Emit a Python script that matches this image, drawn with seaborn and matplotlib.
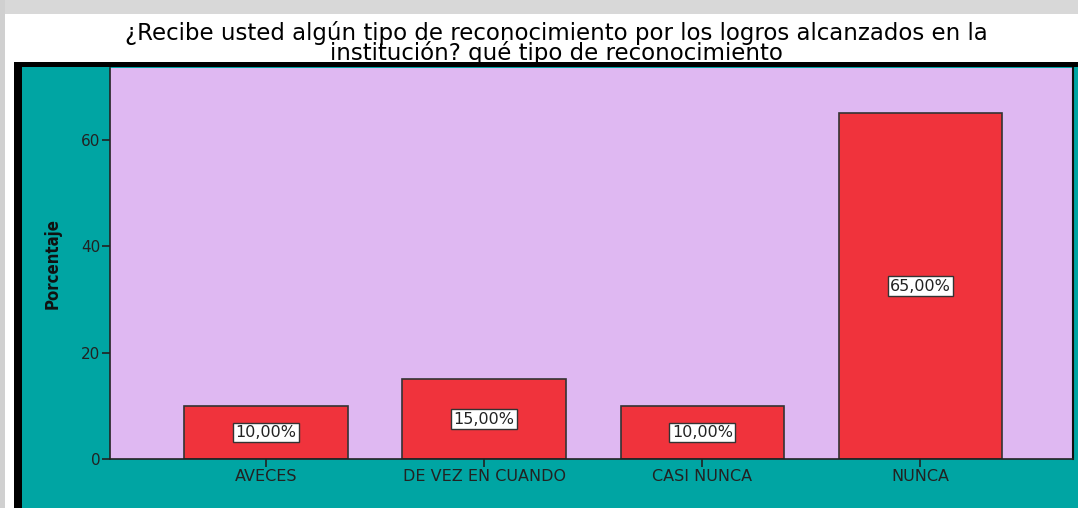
import matplotlib
matplotlib.use("Agg")
import matplotlib.pyplot as plt
import seaborn as sns
import pandas as pd
from matplotlib.patches import Rectangle

categories = ["AVECES", "DE VEZ EN CUANDO", "CASI NUNCA", "NUNCA"]
values = [10.0, 15.0, 10.0, 65.0]
labels = ["10,00%", "15,00%", "10,00%", "65,00%"]
yticks = [0, 20, 40, 60]

sns.set_theme(style="white")
plt.rcParams['font.family'] = ['DejaVu Sans']

W, H = 1078, 508
fig = plt.figure(figsize=(W / 100, H / 100), dpi=100)
fig.patch.set_facecolor("white")

def fx(x): return x / W
def fy(y): return 1 - y / H

bg = [
    Rectangle((0, fy(14)), 1, 14 / H, facecolor="#d8d8d8"),
    Rectangle((0, 0), fx(5), 1, facecolor="#d0d0d0"),
    Rectangle((fx(14), 0), 1 - fx(14), fy(62), facecolor="black"),
    Rectangle((fx(22), 0), 1 - fx(22), fy(67), facecolor="#00A5A3"),
]
for p in bg:
    p.set_transform(fig.transFigure)
    p.set_edgecolor("none")
    p.set_zorder(-10)
    fig.patches.append(p)

fig.text(fx(556), fy(43),
         "¿Recibe usted algún tipo de reconocimiento por los logros alcanzados en la\n"
         "institución? qué tipo de reconocimiento",
         ha="center", va="center", fontsize=16.5, color="black", linespacing=0.82)

ax = fig.add_axes([fx(110), fy(459), fx(1073) - fx(110), (459 - 68) / H])
ax.set_facecolor("#DFB8F2")

df = pd.DataFrame({"cat": categories, "val": values})
sns.barplot(data=df, x="cat", y="val", ax=ax, color="#F0333C", width=0.75,
            edgecolor="#333333", linewidth=1.2, saturation=1)

for i, (v, lab) in enumerate(zip(values, labels)):
    ax.text(i, v / 2, lab, ha="center", va="center", fontsize=11.5, color="#222222",
            bbox=dict(boxstyle="square,pad=0.15", facecolor="white", edgecolor="#333333", linewidth=1))

ax.set_ylim(0, 73.5)
ax.set_xlim(-0.716, 3.70)
ax.set_yticks(yticks)
ax.set_yticklabels([str(t) for t in yticks], fontsize=11, color="#222222")
ax.set_xticks(range(len(categories)))
ax.set_xticklabels(categories, fontsize=11.5, color="#222222")
ax.tick_params(axis="both", which="both", length=6, width=1.2, color="#222222",
               direction="out", bottom=True, left=True, pad=1)
ax.set_xlabel("")
ax.set_ylabel("Porcentaje", fontsize=12, fontweight="bold", fontstretch="condensed",
              family=["DejaVu Sans"], color="#111111", labelpad=14)
for side in ["left", "bottom"]:
    ax.spines[side].set_visible(True)
    ax.spines[side].set_color("#222222")
    ax.spines[side].set_linewidth(1.2)
ax.spines["top"].set_visible(False)
ax.spines["right"].set_visible(True)
ax.spines["right"].set_color("#111111")
ax.spines["right"].set_linewidth(1.5)

fig.savefig("out.png", dpi=100)
